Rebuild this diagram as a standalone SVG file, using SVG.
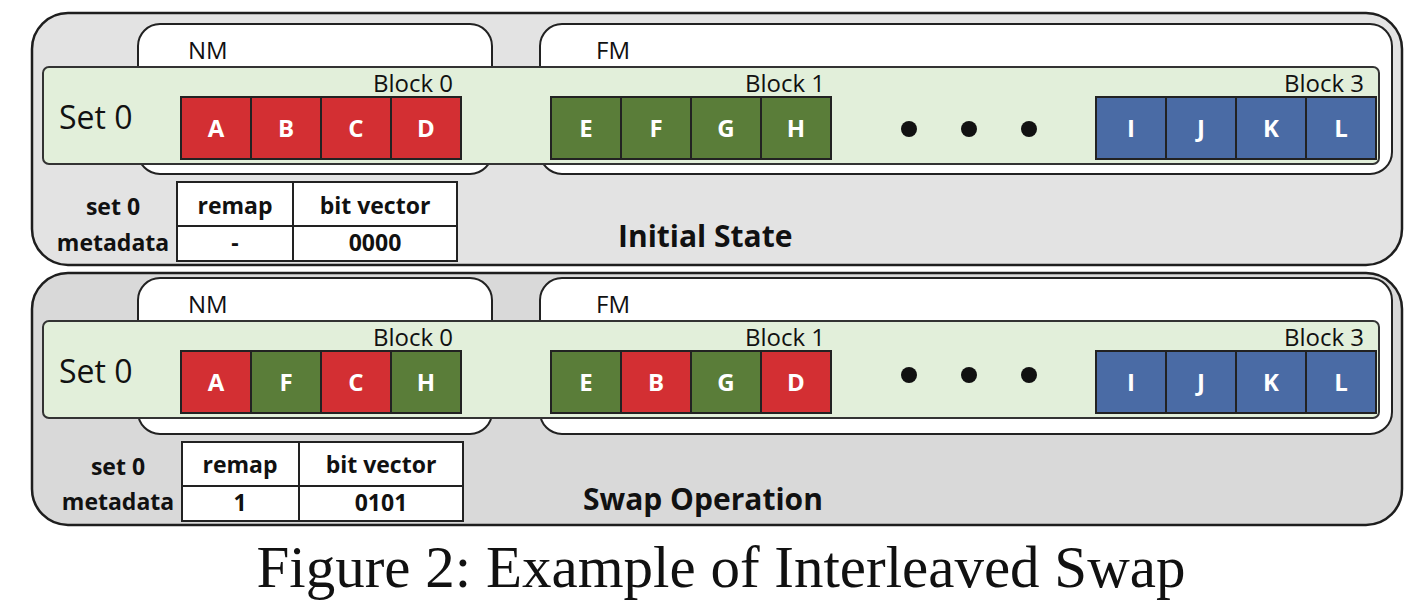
<svg xmlns="http://www.w3.org/2000/svg" width="1414" height="608" viewBox="0 0 1414 608">
<style>
.panel{stroke:#1e1e1e;stroke-width:2.5}
.mem{fill:#ffffff;stroke:#222;stroke-width:2}
.band{fill:#e2efda;stroke:#333;stroke-width:2}
.cell{stroke:#222;stroke-width:2}
.r{fill:#d32f33}.g{fill:#5a7d39}.b{fill:#4a6ba5}
.cl{font-family:"Open Sans","Liberation Sans",sans-serif;font-weight:bold;font-size:24px;fill:#fff;text-anchor:middle}
.lbl{font-family:"Open Sans","Liberation Sans",sans-serif;font-size:24px;fill:#111}
.set{font-family:"Open Sans","Liberation Sans",sans-serif;font-size:32px;fill:#111}
.blk{font-family:"Open Sans","Liberation Sans",sans-serif;font-size:24px;fill:#111;text-anchor:end}
.tb{font-family:"Open Sans","Liberation Sans",sans-serif;font-weight:bold;font-size:23px;fill:#111;text-anchor:middle}
.title{font-family:"Open Sans","Liberation Sans",sans-serif;font-weight:bold;font-size:30px;fill:#111}
.tab{fill:#fff;stroke:#222;stroke-width:2}
.dot{fill:#111}
</style>
<g id="panel-initial">
<rect class="panel" x="32" y="13" width="1370" height="252" rx="36" fill="#e3e3e3"/>
<rect class="mem" x="138" y="24" width="354" height="150" rx="22"/>
<rect class="mem" x="540" y="24" width="852" height="150" rx="22"/>
<text class="lbl" x="188" y="59">NM</text>
<text class="lbl" x="596" y="59">FM</text>
<rect class="band" x="43" y="67" width="1336" height="97" rx="6"/>
<text class="set" x="59" y="129">Set 0</text>
<text class="blk" x="453" y="92">Block 0</text>
<text class="blk" x="825" y="92">Block 1</text>
<text class="blk" x="1364" y="92">Block 3</text>
<g id="cells-initial">
<rect class="cell r" x="181" y="97" width="70" height="62"/><text class="cl" x="216" y="137">A</text>
<rect class="cell r" x="251" y="97" width="70" height="62"/><text class="cl" x="286" y="137">B</text>
<rect class="cell r" x="321" y="97" width="70" height="62"/><text class="cl" x="356" y="137">C</text>
<rect class="cell r" x="391" y="97" width="70" height="62"/><text class="cl" x="426" y="137">D</text>
<rect class="cell g" x="551" y="97" width="70" height="62"/><text class="cl" x="586" y="137">E</text>
<rect class="cell g" x="621" y="97" width="70" height="62"/><text class="cl" x="656" y="137">F</text>
<rect class="cell g" x="691" y="97" width="70" height="62"/><text class="cl" x="726" y="137">G</text>
<rect class="cell g" x="761" y="97" width="70" height="62"/><text class="cl" x="796" y="137">H</text>
<rect class="cell b" x="1096" y="97" width="70" height="62"/><text class="cl" x="1131" y="137">I</text>
<rect class="cell b" x="1166" y="97" width="70" height="62"/><text class="cl" x="1201" y="137">J</text>
<rect class="cell b" x="1236" y="97" width="70" height="62"/><text class="cl" x="1271" y="137">K</text>
<rect class="cell b" x="1306" y="97" width="70" height="62"/><text class="cl" x="1341" y="137">L</text>
</g>
<circle class="dot" cx="909" cy="129" r="8"/>
<circle class="dot" cx="969" cy="129" r="8"/>
<circle class="dot" cx="1029" cy="129" r="8"/>
<g id="meta-initial">
<text class="tb" x="113" y="215">set 0</text>
<text class="tb" x="113" y="251">metadata</text>
<rect class="tab" x="177" y="182" width="280" height="79"/>
<line x1="293" y1="182" x2="293" y2="261" stroke="#222" stroke-width="2"/>
<line x1="177" y1="226" x2="457" y2="226" stroke="#222" stroke-width="2"/>
<text class="tb" x="235" y="214">remap</text>
<text class="tb" x="375" y="214">bit vector</text>
<text class="tb" x="235" y="251">-</text>
<text class="tb" x="375" y="251">0000</text>
</g>
<text class="title" x="618" y="247">Initial State</text>
</g>
<g id="panel-swap">
<rect class="panel" x="32" y="273" width="1370" height="252" rx="36" fill="#d9d9d9"/>
<rect class="mem" x="138" y="278" width="354" height="156" rx="22"/>
<rect class="mem" x="540" y="278" width="852" height="156" rx="22"/>
<text class="lbl" x="188" y="313">NM</text>
<text class="lbl" x="596" y="313">FM</text>
<rect class="band" x="43" y="321" width="1336" height="97" rx="6"/>
<text class="set" x="59" y="383">Set 0</text>
<text class="blk" x="453" y="346">Block 0</text>
<text class="blk" x="825" y="346">Block 1</text>
<text class="blk" x="1364" y="346">Block 3</text>
<g id="cells-swap">
<rect class="cell r" x="181" y="351" width="70" height="62"/><text class="cl" x="216" y="391">A</text>
<rect class="cell g" x="251" y="351" width="70" height="62"/><text class="cl" x="286" y="391">F</text>
<rect class="cell r" x="321" y="351" width="70" height="62"/><text class="cl" x="356" y="391">C</text>
<rect class="cell g" x="391" y="351" width="70" height="62"/><text class="cl" x="426" y="391">H</text>
<rect class="cell g" x="551" y="351" width="70" height="62"/><text class="cl" x="586" y="391">E</text>
<rect class="cell r" x="621" y="351" width="70" height="62"/><text class="cl" x="656" y="391">B</text>
<rect class="cell g" x="691" y="351" width="70" height="62"/><text class="cl" x="726" y="391">G</text>
<rect class="cell r" x="761" y="351" width="70" height="62"/><text class="cl" x="796" y="391">D</text>
<rect class="cell b" x="1096" y="351" width="70" height="62"/><text class="cl" x="1131" y="391">I</text>
<rect class="cell b" x="1166" y="351" width="70" height="62"/><text class="cl" x="1201" y="391">J</text>
<rect class="cell b" x="1236" y="351" width="70" height="62"/><text class="cl" x="1271" y="391">K</text>
<rect class="cell b" x="1306" y="351" width="70" height="62"/><text class="cl" x="1341" y="391">L</text>
</g>
<circle class="dot" cx="909" cy="375" r="8"/>
<circle class="dot" cx="969" cy="375" r="8"/>
<circle class="dot" cx="1029" cy="375" r="8"/>
<g id="meta-swap">
<text class="tb" x="118" y="475">set 0</text>
<text class="tb" x="118" y="510">metadata</text>
<rect class="tab" x="182" y="442" width="281" height="79"/>
<line x1="299" y1="442" x2="299" y2="521" stroke="#222" stroke-width="2"/>
<line x1="182" y1="486" x2="463" y2="486" stroke="#222" stroke-width="2"/>
<text class="tb" x="240" y="473">remap</text>
<text class="tb" x="381" y="473">bit vector</text>
<text class="tb" x="240" y="511">1</text>
<text class="tb" x="381" y="511">0101</text>
</g>
<text class="title" x="583" y="510">Swap Operation</text>
</g>
<g id="connectors"/>
<text x="721" y="587" font-family="'Liberation Serif','Times New Roman',serif" font-size="59" fill="#111" text-anchor="middle">Figure 2: Example of Interleaved Swap</text>
</svg>
